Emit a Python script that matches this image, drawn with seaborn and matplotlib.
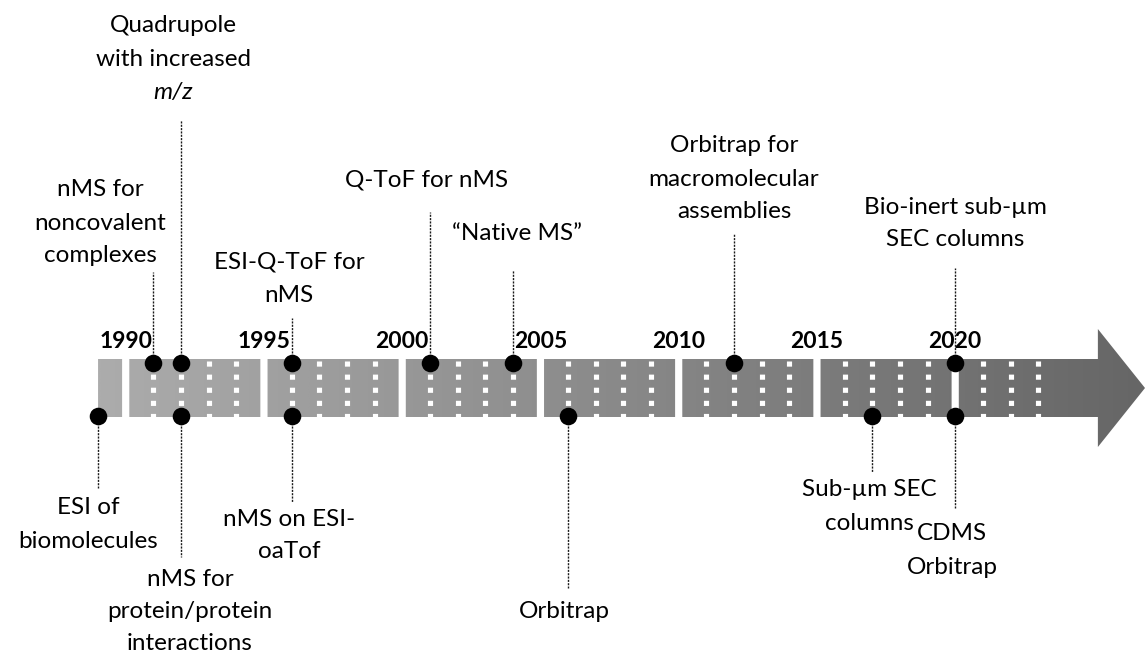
import numpy as np
import pandas as pd
import seaborn as sns
from matplotlib import pyplot as plt
from matplotlib.path import Path
from matplotlib.patches import PathPatch
from matplotlib.colors import LinearSegmentedColormap

# milestones above the arrow
top_years = [1991, 1992, 1996, 2001, 2004, 2012, 2020]
top_labels = ["nMS for\nnoncovalent\ncomplexes",
              "Quadrupole\nwith increased\nm/z",
              "ESI-Q-ToF for\nnMS",
              "Q-ToF for nMS",
              "\u201cNative MS\u201d",
              "Orbitrap for\nmacromolecular\nassemblies",
              "Bio-inert sub-\u00b5m\nSEC columns"]
# milestones below the arrow
bottom_years = [1989, 1992, 1996, 2006, 2017, 2020]
bottom_labels = ["ESI of\nbiomolecules",
                 "nMS for\nprotein/protein\ninteractions",
                 "nMS on ESI-\noaTof",
                 "Orbitrap",
                 "Sub-\u00b5m SEC\ncolumns",
                 "CDMS\nOrbitrap"]
year_ticks = [1990, 1995, 2000, 2005, 2010, 2015, 2020]
first_year, last_year = 1989, 2023

# layout (pixels of the 1145x657 canvas)
PX_YEAR = 27.65
X1990 = 125.7
x_left = 1990 - X1990 / PX_YEAR
x_right = x_left + 1145 / PX_YEAR
BAR_TOP, BAR_BOT = 359, 417
HEAD_TOP, HEAD_BOT = 329, 447
BODY_END = 2025.16
GAP = 0.13
DOT_Y = {"top": 363, "bottom": 416}
LINE_STEP = 33
FS = 17.5

top_text_px = [100, 173.5, 289, 427, 517, 734, 955]
top_text_y = [190, 26, 262, 180, 233, 146, 207]
top_lead_y = [272, 120, 318, 212, 270, 233, 268]
bottom_text_px = [88, 190, 289, 564, 869, 952]
bottom_text_y = [507, 580, 520, 612, 490, 533]
bottom_lead_y = [488, 557, 502, 588, 472, 508]
bottom_step = [35, 32, 32, 33, 33, 35]

sns.set_theme(style="white")
plt.rcParams["font.family"] = ["Lato", "DejaVu Sans"]

fig = plt.figure(figsize=(11.45, 6.57), dpi=100)
ax = fig.add_axes([0, 0, 1, 1])
ax.set_xlim(x_left, x_right)
ax.set_ylim(657, 0)
ax.set_axis_off()

# arrow body split into 5-year blocks, filled with a grey gradient
edges = [first_year] + year_ticks + [BODY_END]
verts, codes = [], []
for i in range(len(edges) - 1):
    a = edges[i] + (GAP if i > 0 else 0)
    b = edges[i + 1] - (GAP if i < len(edges) - 2 else 0)
    if i < len(edges) - 2:
        poly = [(a, BAR_TOP), (b, BAR_TOP), (b, BAR_BOT), (a, BAR_BOT), (a, BAR_TOP)]
    else:
        poly = [(a, BAR_TOP), (b, BAR_TOP), (b, HEAD_TOP), (x_right, (BAR_TOP + BAR_BOT) / 2),
                (b, HEAD_BOT), (b, BAR_BOT), (a, BAR_BOT), (a, BAR_TOP)]
    verts += poly
    codes += [Path.MOVETO] + [Path.LINETO] * (len(poly) - 2) + [Path.CLOSEPOLY]
clip = PathPatch(Path(verts, codes), transform=ax.transData, facecolor="none", edgecolor="none")
ax.add_patch(clip)
cmap = LinearSegmentedColormap.from_list("arrow", ["#acacac", "#666666"])
grad = np.linspace(0, 1, 512).reshape(1, -1)
im = ax.imshow(grad, cmap=cmap, extent=[first_year, x_right, HEAD_BOT, HEAD_TOP],
               aspect="auto", interpolation="bilinear", zorder=1)
im.set_clip_path(clip)

# white dotted lines for every year
for yr in range(first_year + 1, last_year + 1):
    if yr in year_ticks:
        continue
    ax.plot([yr, yr], [360.5, BAR_BOT], color="white", lw=3.7,
            linestyle=(0, (1, 1.55)), solid_capstyle="butt", zorder=2)

for yr in year_ticks:
    ax.text(yr, 341, str(yr), ha="center", va="center", fontsize=16.5,
            fontweight="bold", color="black")

# leader lines and labels
def draw_labels(years, labels, text_px, text_y, lead_y, row, steps=None):
    for i, (yr, lab, tx, ty, ly) in enumerate(zip(years, labels, text_px, text_y, lead_y)):
        ax.plot([yr, yr], [DOT_Y[row], ly], color="#1a1a1a", lw=1.0,
                linestyle=(0, (1.5, 0.9)), zorder=3)
        xx = x_left + tx / PX_YEAR
        step = steps[i] if steps else LINE_STEP
        for k, line in enumerate(lab.split("\n")):
            ax.text(xx, ty + k * step, line, ha="center", va="center",
                    fontsize=FS, color="black",
                    fontstyle="italic" if line == "m/z" else "normal")

draw_labels(top_years, top_labels, top_text_px, top_text_y, top_lead_y, "top")
draw_labels(bottom_years, bottom_labels, bottom_text_px, bottom_text_y, bottom_lead_y,
            "bottom", bottom_step)

events = pd.DataFrame({
    "year": top_years + bottom_years,
    "row": ["top"] * len(top_years) + ["bottom"] * len(bottom_years),
})
events["y"] = events["row"].map(DOT_Y)
sns.scatterplot(data=events, x="year", y="y", color="black", s=160,
                linewidth=0, legend=False, ax=ax, zorder=5)
ax.set_xlim(x_left, x_right)
ax.set_ylim(657, 0)
ax.set_axis_off()

fig.savefig("out.png", dpi=100)
